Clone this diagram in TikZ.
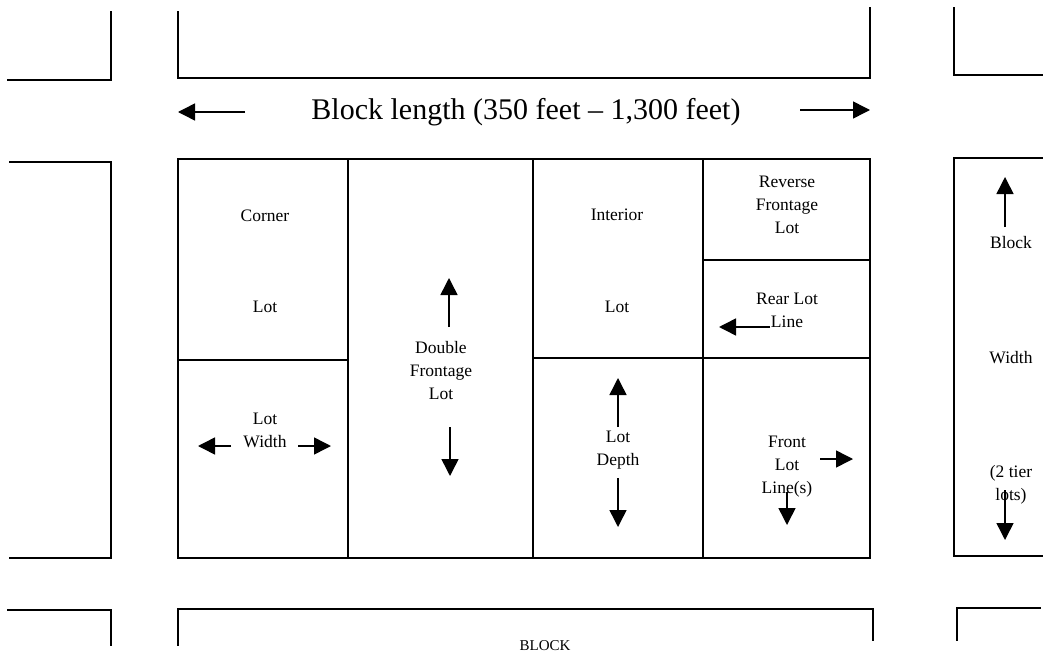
\documentclass[tikz,border=0pt]{standalone}
\usepackage{fontspec}
\setmainfont{Liberation Serif}
\usetikzlibrary{arrows.meta}
\begin{document}
\begin{tikzpicture}[x=1pt,y=-1pt,
  wall/.style={line width=1.3pt, line cap=rect},
  arr/.style={line width=1.5pt,-{Triangle[length=17pt,width=17pt]}},
  lbl/.style={font=\fontsize{17.5}{23}\selectfont, align=center, inner sep=0pt},
]
\useasboundingbox[fill=white] (0,0) rectangle (1043,658);
% top row of blocks
\draw[wall] (8,80) -- (111,80) -- (111,12);
\draw[wall] (178,12) -- (178,78) -- (870,78) -- (870,8);
\draw[wall] (954,8) -- (954,75) -- (1043,75);
% block length
\node[font=\fontsize{30}{33}\selectfont, inner sep=0pt] (title) at (526,112) {Block length (350 feet -- 1,300 feet)};
\draw[arr] (245,112) -- (178,112);
\draw[arr] (800,110) -- (870,110);
% middle row
\draw[wall] (10,162) -- (111,162) -- (111,558) -- (10,558);
\draw[wall] (178,159) rectangle (870,558);
\draw[wall] (348,159) -- (348,558);
\draw[wall] (533,159) -- (533,558);
\draw[wall] (703,159) -- (703,558);
\draw[wall] (178,360) -- (348,360);
\draw[wall] (533,358) -- (870,358);
\draw[wall] (703,260) -- (870,260);
\draw[wall] (1043,158) -- (954,158) -- (954,556) -- (1043,556);
% corner lot
\node[lbl] (corner) at (265,216) {Corner};
\node[lbl] (cornerlot) at (265,307) {Lot};
\node[lbl] (lotwidth) at (265,430) {Lot\\Width};
\draw[arr] (231,446) -- (198,446);
\draw[arr] (298,446) -- (331,446);
% double frontage lot
\node[lbl] (double) at (441,371) {Double\\Frontage\\Lot};
\draw[arr] (449,327) -- (449,278);
\draw[arr] (450,427) -- (450,476);
% interior lot
\node[lbl] (interior) at (617,215) {Interior};
\node[lbl] (interiorlot) at (617,307) {Lot};
\node[lbl] (lotdepth) at (618,450) {Lot\\Depth};
\draw[arr] (618,427) -- (618,378);
\draw[arr] (618,478) -- (618,527);
% reverse frontage lot
\node[lbl] (reverse) at (787,205) {Reverse\\Frontage\\Lot};
\node[lbl] (rear) at (787,310) {Rear Lot\\Line};
\draw[arr] (770,327) -- (719,327);
% front lot lines
\node[lbl] (front) at (787,467) {Front\\Lot\\Line(s)};
\draw[arr] (820,459) -- (853,459);
\draw[arr] (787,492) -- (787,525);
% block width
\node[lbl] (bw1) at (1011,243) {Block};
\node[lbl] (bw2) at (1011,358) {Width};
\node[lbl] (bw3) at (1011,485) {(2 tier\\lots)};
\draw[arr] (1005,227) -- (1005,177);
\draw[arr] (1005,490) -- (1005,540);
% bottom row
\draw[wall] (8,610) -- (111,610) -- (111,645);
\draw[wall] (178,645) -- (178,609) -- (873,609) -- (873,640);
\draw[wall] (957,640) -- (957,608) -- (1040,608);
\node[font=\fontsize{15}{18}\selectfont, inner sep=0pt] (block) at (545,646) {BLOCK};
\end{tikzpicture}
\end{document}
